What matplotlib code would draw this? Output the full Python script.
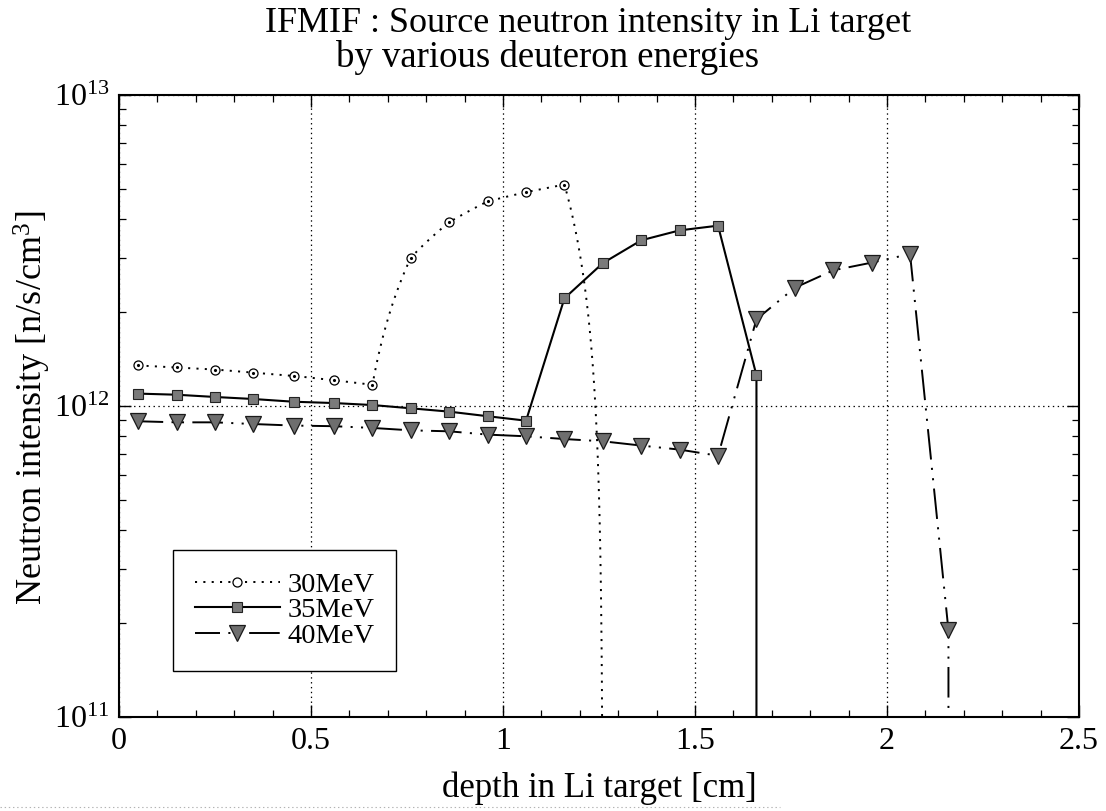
import numpy as np
import matplotlib
matplotlib.use("Agg")
import matplotlib.pyplot as plt
from matplotlib.lines import Line2D
from matplotlib.transforms import Transform
from matplotlib.ticker import MultipleLocator, LogLocator, NullFormatter

# depth of each calculation point [cm]
depth = [0.05, 0.15, 0.25, 0.35, 0.455, 0.56, 0.66, 0.76, 0.86, 0.96, 1.06,
         1.16, 1.26, 1.36, 1.46, 1.56, 1.66, 1.76, 1.86, 1.96, 2.06, 2.16]

# neutron intensity in units of 1e12 n/s/cm3, 0 = no more neutrons (end of range)
n30 = [1.35, 1.33, 1.31, 1.28, 1.25, 1.21, 1.17, 3.0, 3.9, 4.55, 4.87, 5.15, 0]
n35 = [1.096, 1.087, 1.069, 1.053, 1.032, 1.022, 1.007, 0.983, 0.959, 0.927,
       0.897, 2.22, 2.88, 3.41, 3.67, 3.80, 1.255, 0]
n40 = [0.893, 0.886, 0.886, 0.875, 0.865, 0.861, 0.850, 0.835, 0.829, 0.809,
       0.799, 0.783, 0.770, 0.746, 0.724, 0.692, 1.90, 2.40, 2.73, 2.89, 3.08,
       0.19, 0]

x30 = depth[:12] + [1.26]
x35 = depth[:17] + [1.66]
x40 = depth + [2.16]


class LinearSegments(Transform):
    # draw segments straight in data space (like the original plot program)
    input_dims = output_dims = 2
    has_inverse = False

    def transform_non_affine(self, values):
        return np.asarray(values)

    def transform_path_non_affine(self, path):
        return path.interpolated(120)


plt.rcParams["font.family"] = ["Liberation Serif", "DejaVu Serif"]
plt.rcParams["mathtext.fontset"] = "custom"
plt.rcParams["mathtext.rm"] = "Liberation Serif"
plt.rcParams["mathtext.it"] = "Liberation Serif:italic"
plt.rcParams["lines.scale_dashes"] = False

fig = plt.figure(figsize=(11.06, 8.11), dpi=100)
ax = fig.add_axes([0.1076, 0.1159, 0.868, 0.767])
ax.set_yscale("log", nonpositive="clip")

y30 = np.array(n30) * 1e12
y35 = np.array(n35) * 1e12
y40 = np.array(n40) * 1e12

ax.plot(x30, y30, color="black", lw=1.4, ls=(0, (1.5, 4.5)),
        marker="o", ms=6.5, mfc="white", mec="black", mew=0.9,
        transform=LinearSegments() + ax.transData, label="30MeV")
ax.plot(x30[:-1], y30[:-1], ls="none", marker=".", ms=2.5, color="black")
ax.plot(x35, y35, color="black", lw=1.5, ls="-",
        marker="s", ms=7, mfc="#7a7a7a", mec="#222222", mew=0.8, label="35MeV")
ax.plot(x40, y40, color="black", lw=1.4, ls=(4, (22, 6, 1.5, 6, 1.5, 6)),
        marker="v", ms=11, mfc="#6e6e6e", mec="#1a1a1a", mew=0.9, label="40MeV")

ax.set_xlim(0, 2.5)
ax.set_ylim(1e11, 1e13)

ax.xaxis.set_major_locator(MultipleLocator(0.5))
ax.xaxis.set_minor_locator(MultipleLocator(0.1))
ax.yaxis.set_major_locator(LogLocator(base=10))
ax.yaxis.set_minor_locator(LogLocator(base=10, subs=np.arange(2, 10)))
ax.yaxis.set_minor_formatter(NullFormatter())
ax.set_xticks([0, 0.5, 1, 1.5, 2, 2.5])
ax.set_xticklabels(["0", "0.5", "1", "1.5", "2", "2.5"])

ax.tick_params(which="both", direction="in", top=True, right=True,
               labelsize=23, color="black")
ax.tick_params(which="major", length=8.5, width=1.0, pad=7)
ax.tick_params(which="minor", length=5, width=0.9)

ax.grid(which="major", color="black", ls=(0, (1, 2.5)), lw=0.9)
for s in ax.spines.values():
    s.set_linewidth(1.5)

leg = ax.legend(loc="lower left", bbox_to_anchor=(0.0566, 0.0744),
                borderaxespad=0, fontsize=20.5, frameon=True, fancybox=False,
                edgecolor="black", framealpha=1, handlelength=3.0,
                handletextpad=0.25, labelspacing=0.0, borderpad=0.75)
leg.get_frame().set_linewidth(1.0)

fig.text(588 / 1106, 1 - 32 / 811,
         "IFMIF : Source neutron intensity in Li target",
         ha="center", va="baseline", fontsize=26)
fig.text(548 / 1106, 1 - 67 / 811, "by various deuteron energies",
         ha="center", va="baseline", fontsize=26.5)
fig.text(599 / 1106, 1 - 797 / 811, "depth in Li target [cm]",
         ha="center", va="baseline", fontsize=25)
fig.text(32 / 1106, 1 - 408 / 811, "Neutron intensity [n/s/cm$^3$]",
         ha="center", va="center", rotation=90, fontsize=26)

# faint scan line at the bottom of the page
fig.add_artist(Line2D([0, 0.705], [1 - 807 / 811] * 2, transform=fig.transFigure,
                      color="0.7", ls=(0, (1, 2)), lw=0.8))

fig.savefig("out.png", dpi=100)
